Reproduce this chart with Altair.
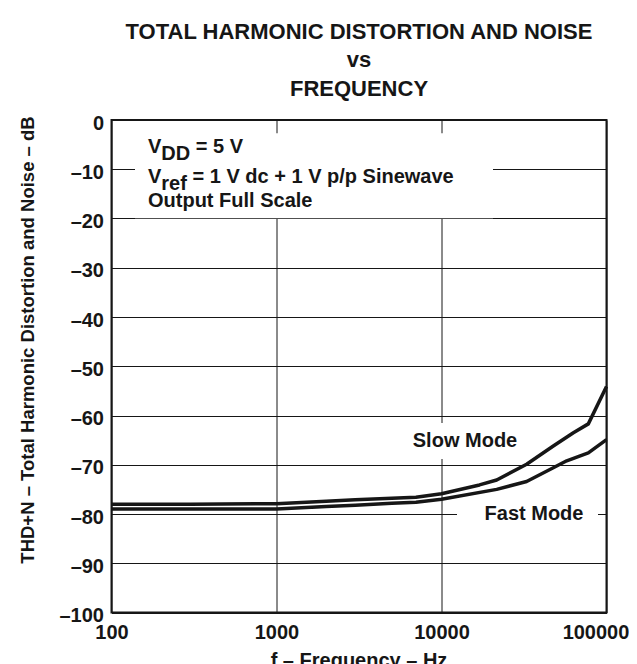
import altair as alt
import pandas as pd

# ---- data ----
slow_freq = [100, 300, 1000, 2000, 3000, 5000, 7000, 10000, 17000, 21600, 32800, 47600, 63000, 77600, 100000]
slow_db = [-78.0, -78.0, -77.9, -77.4, -77.1, -76.8, -76.6, -75.9, -74.1, -73.1, -69.9, -66.2, -63.5, -61.7, -54.1]
fast_freq = [100, 300, 1000, 2000, 3000, 5000, 7000, 10000, 21600, 32800, 47600, 57400, 77600, 100000]
fast_db = [-79.0, -79.0, -79.0, -78.5, -78.2, -77.8, -77.6, -77.0, -75.0, -73.4, -70.6, -69.2, -67.6, -64.9]

x_ticks = [100, 1000, 10000, 100000]
y_ticks = [-100, -90, -80, -70, -60, -50, -40, -30, -20, -10, 0]
title_lines = ["TOTAL HARMONIC DISTORTION AND NOISE", "vs", "FREQUENCY"]
series_names = ["Slow Mode", "Fast Mode"]

FONT = "Liberation Sans"
INK = "#161616"
W, H = 495, 492.5

curves = pd.concat([
    pd.DataFrame({"freq": slow_freq, "db": slow_db, "series": series_names[0]}),
    pd.DataFrame({"freq": fast_freq, "db": fast_db, "series": series_names[1]}),
])

x_axis = alt.Axis(values=x_ticks, labelExpr="format(datum.value, 'd')", grid=True, ticks=False,
                  domain=False, title=None, labelFont=FONT, labelFontSize=20, labelFontWeight="bold",
                  labelColor=INK, labelPadding=10, labelFlush=False, labelOverlap=False,
                  labelOffset={"condition": {"test": "datum.value >= 100000", "value": -11}, "value": 0},
                  gridColor=INK, gridWidth=1, gridOpacity=1)
y_axis = alt.Axis(values=y_ticks,
                  labelExpr="datum.value < 0 ? '\u2013' + format(-datum.value, 'd') : '0'",
                  grid=True, ticks=False, domain=False, title=None, labelFont=FONT, labelFontSize=20,
                  labelFontWeight="bold", labelColor=INK, labelPadding=8, labelOffset=3,
                  labelOverlap=False, labelFlush=False, gridColor=INK, gridWidth=1, gridOpacity=1)

lines = alt.Chart(curves).mark_line(color=INK, strokeWidth=3.5, strokeJoin="round").encode(
    x=alt.X("freq:Q", scale=alt.Scale(type="log", domain=[100, 100000]), axis=x_axis),
    y=alt.Y("db:Q", scale=alt.Scale(domain=[-100, 0]), axis=y_axis),
    detail="series:N",
)

one = pd.DataFrame({"k": [0]})


def box(x0, x1, y0, y1):
    return alt.Chart(one).mark_rect(color="white").encode(
        x=alt.value(x0), x2=alt.value(x1), y=alt.value(y0), y2=alt.value(y1))


def txt(s, x, y, size=20, align="left", angle=0):
    return alt.Chart(one).mark_text(text=s, align=align, baseline="alphabetic", font=FONT,
                                    fontSize=size, fontWeight="bold", color=INK, angle=angle).encode(
        x=alt.value(x), y=alt.value(y))


layers = [
    box(23.5, 381.5, 13.3, 98.3),
    box(290, 420, 303, 339),
    box(345.5, 486.5, 382, 408),
    lines,
    # annotation block
    txt("V", 36.5, 32.7), txt("DD", 49.8, 39.7), txt("= 5 V", 84.3, 32.7),
    txt("V", 36.5, 63.3), txt("ref", 49.8, 70.3), txt("= 1 V dc + 1 V p/p Sinewave", 81, 63.3),
    txt("Output Full Scale", 36.5, 86.7),
    txt(series_names[0], 353.5, 327.3, align="center"),
    txt(series_names[1], 422.5, 400, align="center"),
    # titles
    txt(title_lines[0], W / 2, -81.5, size=22, align="center"),
    txt(title_lines[1], W / 2, -53, size=22, align="center"),
    txt(title_lines[2], W / 2, -24.5, size=22, align="center"),
    txt("THD+N \u2013 Total Harmonic Distortion and Noise \u2013 dB", -77.5, 220, size=18.5,
        align="center", angle=270),
    txt("f \u2013 Frequency \u2013 Hz", W / 2, 547, size=20, align="center"),
]

chart = alt.layer(*layers).properties(
    width=W, height=H,
    autosize=alt.AutoSizeParams(type="none"),
    padding={"left": 103.5, "top": 112, "right": 22.5, "bottom": 51.5},
    background="white",
).configure_view(stroke=INK, strokeWidth=2)

chart.save("out.html", embed_options={"renderer": "svg", "actions": False})
